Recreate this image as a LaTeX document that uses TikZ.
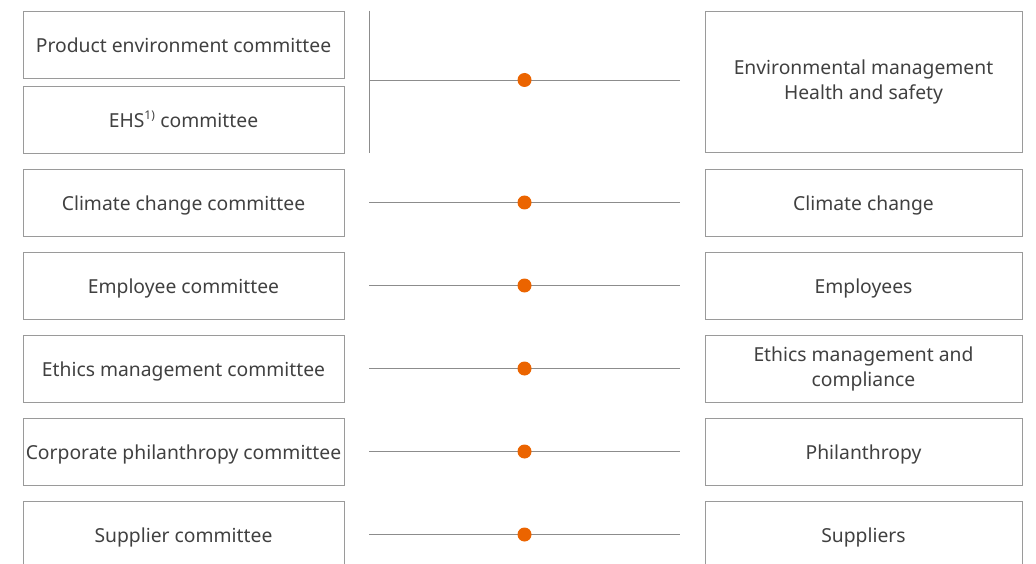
\documentclass[tikz,border=0pt]{standalone}
\usepackage{fontspec}
\setmainfont{Noto Sans}
\usepackage{tikz}
\usetikzlibrary{calc}

\definecolor{boxgray}{HTML}{9A9A9A}
\definecolor{linegray}{HTML}{8C8C8C}
\definecolor{textgray}{HTML}{404040}
\definecolor{dotorange}{HTML}{EB6400}

\begin{document}
\begin{tikzpicture}[x=1pt,y=-1pt,
    textbox/.style={draw=boxgray, line width=0.9pt, text=textgray, align=center,
        inner sep=0pt, font=\fontsize{19.3}{25}\selectfont},
    leftbox/.style={textbox, minimum width=321pt, minimum height=67pt,
        text height=17pt, text depth=1pt},
    rightbox/.style={textbox, minimum width=317pt, minimum height=67pt},
    topic/.style={rightbox, text height=17pt, text depth=1pt},
    link/.style={draw=linegray, line width=0.9pt},
    dot/.style={circle, fill=dotorange, inner sep=0pt, minimum size=14pt}]
        \useasboundingbox (0,0) rectangle (1036,564);
        \clip (0,0) rectangle (1036,564);

        % Left column: committees
        \node[leftbox] (l1) at (183.5,44.5) {Product environment committee};
        \node[leftbox] (l2) at (183.5,119.5) {EHS\textsuperscript{\fontsize{12}{12}\selectfont 1)} committee};
        \node[leftbox] (l3) at (183.5,202.5) {Climate change committee};
        \node[leftbox] (l4) at (183.5,285.5) {Employee committee};
        \node[leftbox] (l5) at (183.5,368.5) {Ethics management committee};
        \node[leftbox] (l6) at (183.5,451.5) {Corporate philanthropy committee};
        \node[leftbox] (l7) at (183.5,534.5) {Supplier committee};

        % Right column: topics
        \node[rightbox, minimum height=141pt] (r1) at (863.5,81.5) {Environmental management\\Health and safety};
        \node[topic] (r3) at (863.5,202.5) {Climate change};
        \node[topic] (r4) at (863.5,285.5) {Employees};
        \node[rightbox] (r5) at (863.5,368.5) {Ethics management and\\compliance};
        \node[topic] (r6) at (863.5,451.5) {Philanthropy};
        \node[topic] (r7) at (863.5,534.5) {Suppliers};

        % Bracket joining the two top committees
        \coordinate (bt) at ([xshift=25pt]l1.north east);
        \coordinate (bb) at ([xshift=25pt]l2.south east);
        \coordinate (bm) at ([yshift=1.5pt]bt |- r1.west);
        \draw[link] (bt) -- (bb);
        \draw[link] (bm) -- ([xshift=-25pt]bm -| r1.west) node[dot, midway] (d1) {};

        % Remaining links
        \foreach \i in {3,...,7} {
            \draw[link, shorten <=25pt, shorten >=25pt] (l\i.east) -- (r\i.west);
            \node[dot] (d\i) at ($(l\i.east)!0.5!(r\i.west)$) {};
        }
\end{tikzpicture}
\end{document}
